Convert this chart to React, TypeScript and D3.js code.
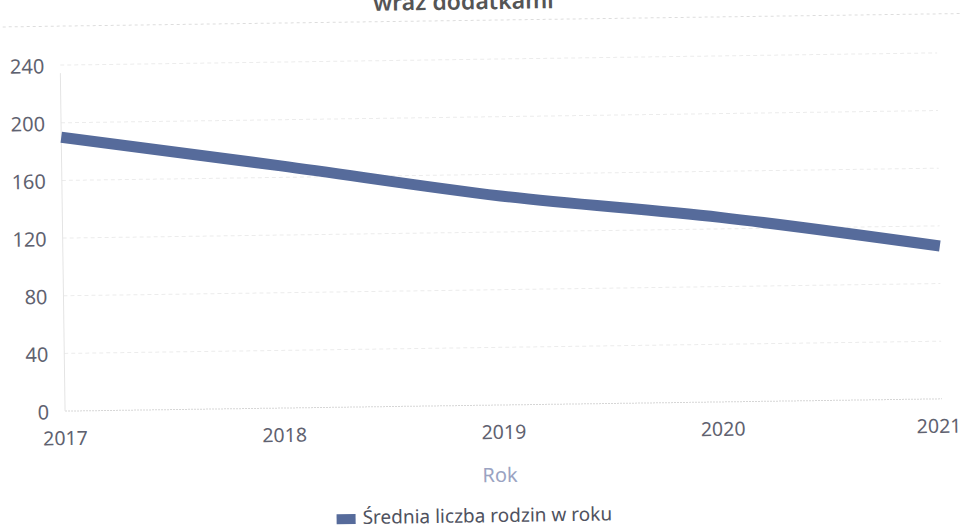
import React from 'react';
import * as d3 from 'd3';

// dane
const years = [2017, 2018, 2019, 2020, 2021];
const families = [190, 168, 145, 128, 106];
const yTicks = [0, 40, 80, 120, 160, 200, 240];

const W = 963;
const H = 531;
const margin = { top: 59, right: 23, bottom: 126, left: 63 };

const App = () => {
  const x = d3.scaleLinear([2017, 2021], [margin.left, W - margin.right]);
  const y = d3.scaleLinear([0, 240], [H - margin.bottom, margin.top]);

  const line = d3.line<number>()
    .x((d, i) => x(years[i]))
    .y(d => y(d))
    .curve(d3.curveMonotoneX);

  const font = '"Noto Sans", "Open Sans", sans-serif';
  const last = years[years.length - 1];

  return (
    <svg width={W} height={H} style={{ position: 'absolute', left: 0, top: 0, background: '#fff' }}>
      {/* zdjęcie jest lekko obrócone */}
      <g transform="rotate(-0.8 500 260)">
        <text x={467} y={9} textAnchor="middle" fontFamily={font} fontSize={23} fontWeight={600} fill="#555">
          wraz dodatkami
        </text>
        <line x1={0} x2={W} y1={20} y2={20} stroke="#ddd" strokeDasharray="3 3" />

        {yTicks.map(t => (
          <g key={t}>
            <line
              x1={margin.left}
              x2={W - margin.right}
              y1={y(t)}
              y2={y(t)}
              stroke={t === 0 ? '#d6d6d6' : '#ececec'}
              strokeDasharray={t === 0 ? '2 1' : '4 3'}
            />
            <text x={47} y={y(t) + 8} textAnchor="end" fontFamily={font} fontSize={20} fill="#5f6270">
              {t}
            </text>
          </g>
        ))}
        <line x1={margin.left} x2={margin.left} y1={y(240) + 8} y2={y(0)} stroke="#e4e4e4" />

        {years.map(yr => (
          <text
            key={yr}
            x={yr === last ? x(yr) + 19 : x(yr)}
            y={y(0) + 34}
            textAnchor={yr === last ? 'end' : 'middle'}
            fontFamily={font}
            fontSize={19.5}
            fill="#5f6270"
          >
            {yr}
          </text>
        ))}

        <path d={line(families) ?? ''} fill="none" stroke="#566b9b" strokeWidth={11} strokeLinecap="butt" />

        <text x={497} y={482} textAnchor="middle" fontFamily={font} fontSize={20} fill="#9aa3c2">
          Rok
        </text>

        <rect x={333} y={512} width={19} height={10} fill="#566b9b" />
        <text x={359} y={522} fontFamily={font} fontSize={19} fill="#4f5260">
          Średnia liczba rodzin w roku
        </text>
      </g>
    </svg>
  );
};

export default App;
